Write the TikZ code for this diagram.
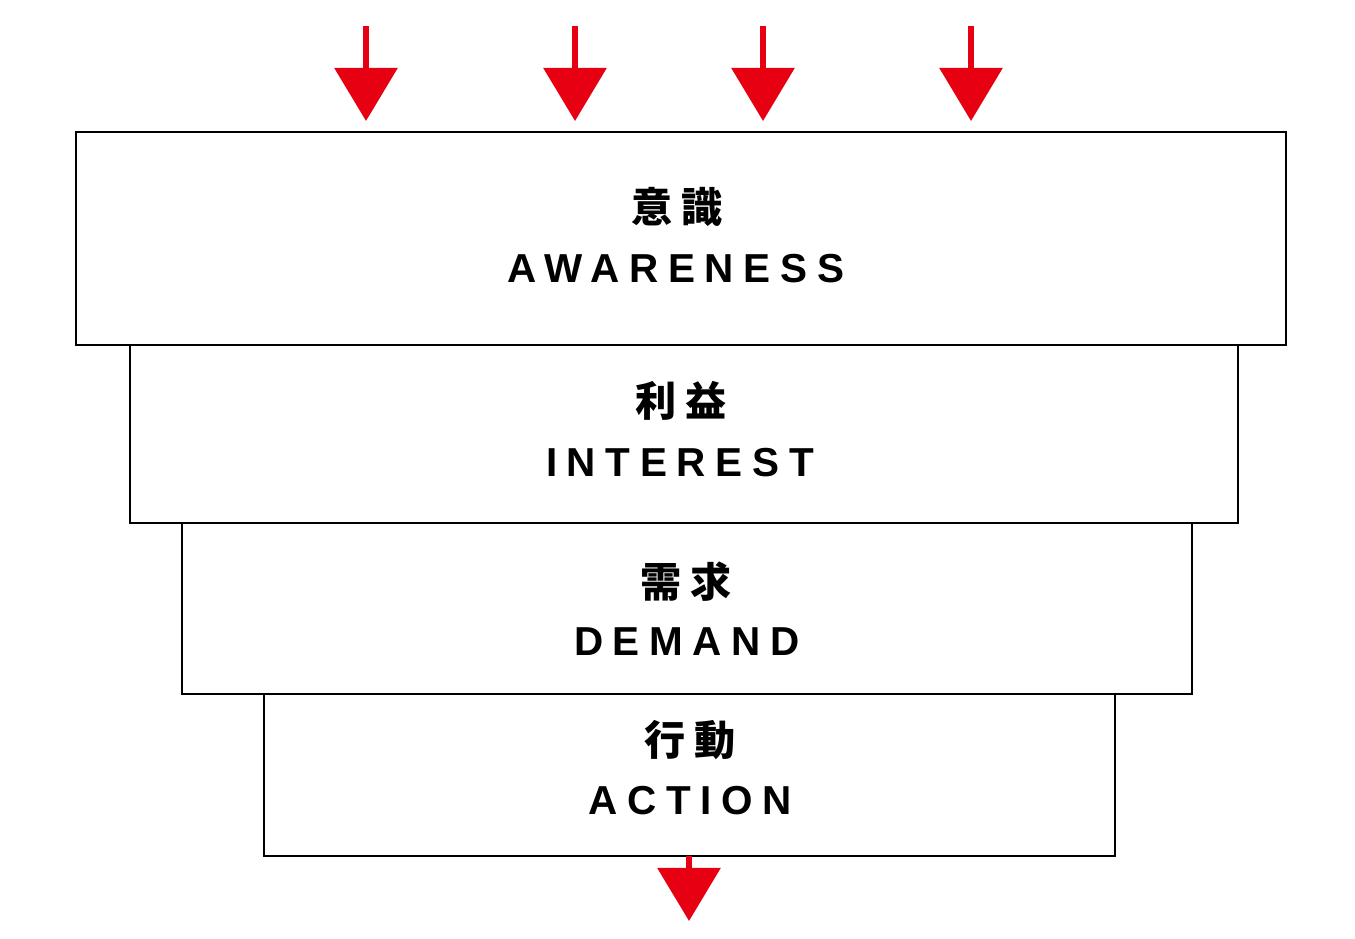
\documentclass[tikz,border=0pt]{standalone}
\usepackage{fontspec}
\usetikzlibrary{arrows.meta}
\newfontfamily\cjkfont{Noto Sans CJK JP}[LetterSpace=22]
\newfontfamily\latfont{Liberation Sans}[LetterSpace=24]
\definecolor{funnelred}{HTML}{E60012}
\tikzset{
  stage/.style={draw=black, line width=0.6pt, fill=white, inner sep=0pt, outer sep=0pt},
  jp/.style={font=\cjkfont\bfseries\fontsize{11.7pt}{14pt}\selectfont, inner sep=0pt},
  en/.style={font=\latfont\bfseries\fontsize{11.5pt}{14pt}\selectfont, inner sep=0pt},
  redarrow/.style={draw=funnelred, line width=1.7pt, -{Triangle[length=0.53cm, width=0.62cm, fill=funnelred]}}
}
\begin{document}
\begin{tikzpicture}[x=0.01cm, y=-0.01cm]
\useasboundingbox (0,0) rectangle (1355,938);
% boxes
\node[stage, minimum width=12.10cm, minimum height=2.13cm] (b1) at (681,238.5) {};
\node[stage, minimum width=11.08cm, minimum height=1.78cm] (b2) at (684,434) {};
\node[stage, minimum width=10.10cm, minimum height=1.71cm] (b3) at (687,608.5) {};
\node[stage, minimum width=8.51cm, minimum height=1.62cm] (b4) at (689.5,775) {};
% labels
\node[jp] (j1) at (677,207) {意識};
\node[en] (e1) at (676,269) {AWARENESS};
\node[jp] (j2) at (681,401) {利益};
\node[en] (e2) at (680,463) {INTEREST};
\node[jp] (j3) at (686,582) {需求};
\node[en] (e3) at (687,642) {DEMAND};
\node[jp] (j4) at (690,740) {行動};
\node[en] (e4) at (690,801) {ACTION};
% top arrows
\coordinate (s1) at (366,26); \coordinate (t1) at (366,121);
\coordinate (s2) at (575,26); \coordinate (t2) at (575,121);
\coordinate (s3) at (763,26); \coordinate (t3) at (763,121);
\coordinate (s4) at (971,26); \coordinate (t4) at (971,121);
\draw[redarrow] (s1) -- (t1);
\draw[redarrow] (s2) -- (t2);
\draw[redarrow] (s3) -- (t3);
\draw[redarrow] (s4) -- (t4);
% bottom arrow
\coordinate (s5) at (689,856); \coordinate (t5) at (689,921);
\draw[redarrow] (s5) -- (t5);
\end{tikzpicture}
\end{document}
